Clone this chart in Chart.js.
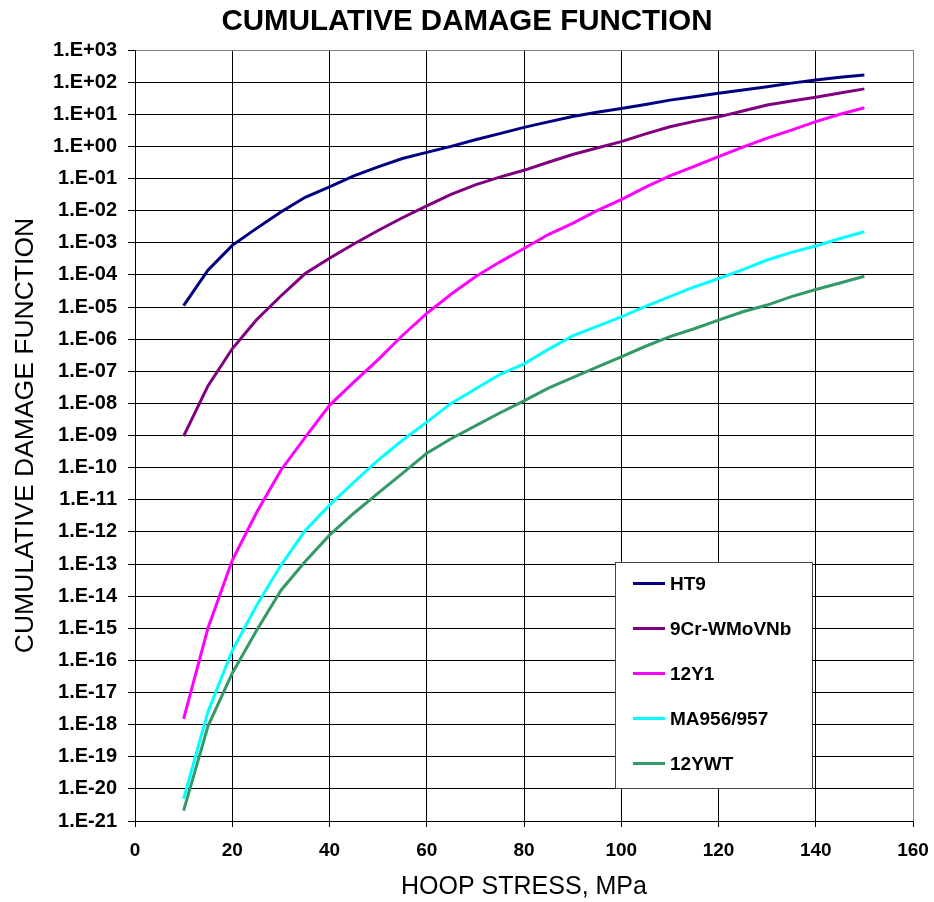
<!DOCTYPE html>
<html>
<head>
<meta charset="utf-8">
<script src="https://cdn.jsdelivr.net/npm/chart.js@4.4.1/dist/chart.umd.min.js"></script>
<style>
html,body{margin:0;padding:0;background:#ffffff;}
canvas{display:block;}
</style>
</head>
<body>
<canvas id="c" width="934" height="902"></canvas>
<script>
// ---------- data ----------
const stress = [10,15,20,25,30,35,40,45,50,55,60,65,70,75,80,85,90,95,100,105,110,115,120,125,130,135,140,145,150];

const ht9 = [1.1e-5,1.4e-4,8.3e-4,2.8e-3,9.1e-3,2.6e-2,5.5e-2,1.2e-1,2.3e-1,4.2e-1,6.5e-1,1.0,1.6,2.5,3.9,5.8,8.5,11.5,15,20,27.5,35,45,57,72,93,117,141,166];
const cr9 = [9.5e-10,3.5e-8,5.0e-7,4.0e-6,2.2e-5,1.1e-4,3.3e-4,9.1e-4,2.4e-3,6.0e-3,1.4e-2,3.2e-2,6.3e-2,1.1e-1,1.8e-1,3.2e-1,5.6e-1,8.9e-1,1.4,2.45,4.1,6.0,8.3,12.6,19.5,25.7,33.9,45.7,61.7];
const y12y1 = [1.5e-18,1.0e-15,1.3e-13,4.0e-12,8.3e-11,8.7e-10,8.7e-9,4.6e-8,2.3e-7,1.3e-6,6.3e-6,2.5e-5,8.7e-5,2.5e-4,6.6e-4,1.8e-3,4.0e-3,1.0e-2,2.2e-2,5.4e-2,1.2e-1,2.4e-1,4.8e-1,9.5e-1,1.8,3.2,5.9,10,16];
const ma956 = [4.9e-21,2.5e-18,2.0e-16,5.1e-15,9.1e-14,1.1e-12,6.8e-12,3.5e-11,1.7e-10,7.1e-10,2.6e-9,1.0e-8,2.8e-8,7.9e-8,1.7e-7,4.8e-7,1.26e-6,2.5e-6,4.9e-6,1.05e-5,2.1e-5,4.2e-5,7.6e-5,1.45e-4,2.9e-4,5.0e-4,7.9e-4,1.35e-3,2.2e-3];
const ywt12 = [2.1e-21,8.9e-19,4.0e-17,8.5e-16,1.5e-14,1.2e-13,7.9e-13,3.8e-12,1.6e-11,6.6e-11,2.8e-10,7.9e-10,2.0e-9,5.0e-9,1.2e-8,3.0e-8,6.3e-8,1.35e-7,2.8e-7,6.0e-7,1.2e-6,2.1e-6,3.9e-6,7.1e-6,1.15e-5,2.1e-5,3.5e-5,5.6e-5,9.1e-5];

const seriesNames = ['HT9','9Cr-WMoVNb','12Y1','MA956/957','12YWT'];
const seriesColors = ['#000080','#800080','#FF00FF','#00FFFF','#339966'];
const seriesValues = [ht9, cr9, y12y1, ma956, ywt12];

const xTickValues = [0,20,40,60,80,100,120,140,160];
const yTickValues = [1e3,1e2,1e1,1e0,1e-1,1e-2,1e-3,1e-4,1e-5,1e-6,1e-7,1e-8,1e-9,1e-10,1e-11,1e-12,1e-13,1e-14,1e-15,1e-16,1e-17,1e-18,1e-19,1e-20,1e-21];
const yTickLabels = ['1.E+03','1.E+02','1.E+01','1.E+00','1.E-01','1.E-02','1.E-03','1.E-04','1.E-05','1.E-06','1.E-07','1.E-08','1.E-09','1.E-10','1.E-11','1.E-12','1.E-13','1.E-14','1.E-15','1.E-16','1.E-17','1.E-18','1.E-19','1.E-20','1.E-21'];

const FONT = '"Liberation Sans", Arial, sans-serif';

const datasets = seriesNames.map((name, i) => ({
  label: name,
  data: stress.map((s, j) => ({x: s, y: seriesValues[i][j]})),
  borderColor: seriesColors[i],
  backgroundColor: seriesColors[i],
  borderWidth: 3,
  pointRadius: 0,
  tension: 0,
  fill: false
}));

const boxLegend = {
  id: 'boxLegend',
  afterDraw(chart) {
    const {ctx, chartArea: a} = chart;
    const x0 = a.left + 480, y0 = a.top + 512, w = 197, h = 226;
    ctx.save();
    ctx.fillStyle = '#ffffff';
    ctx.fillRect(x0, y0, w, h);
    ctx.strokeStyle = '#444444';
    ctx.lineWidth = 1;
    ctx.strokeRect(x0 + 0.5, y0 + 0.5, w, h);
    chart.data.datasets.forEach((ds, i) => {
      const y = Math.round(y0 + 21 + i * 45) + 0.5;
      ctx.strokeStyle = ds.borderColor;
      ctx.lineWidth = 3;
      ctx.beginPath();
      ctx.moveTo(x0 + 18, y);
      ctx.lineTo(x0 + 50, y);
      ctx.stroke();
      ctx.fillStyle = '#000000';
      ctx.font = 'bold 19px ' + FONT;
      ctx.textBaseline = 'middle';
      ctx.textAlign = 'left';
      ctx.fillText(ds.label, x0 + 55, y + 1);
    });
    ctx.restore();
  }
};

new Chart(document.getElementById('c'), {
  type: 'line',
  data: {datasets},
  plugins: [boxLegend],
  options: {
    responsive: false,
    animation: false,
    layout: {padding: {left: 0, right: 0, top: 0, bottom: 0}},
    plugins: {
      legend: {display: false},
      tooltip: {enabled: false},
      title: {
        display: true,
        text: 'CUMULATIVE DAMAGE FUNCTION',
        color: '#000000',
        font: {family: FONT, size: 29.5, weight: 'bold'},
        padding: {top: 4, bottom: 10.6}
      }
    },
    scales: {
      x: {
        type: 'linear',
        min: 0,
        max: 160,
        afterFit(scale) { scale.height = 81; scale.paddingLeft = 0; scale.paddingRight = 21; },
        afterBuildTicks(scale) { scale.ticks = xTickValues.map(v => ({value: v})); },
        ticks: {
          color: '#000000',
          font: {family: FONT, size: 19, weight: 'bold'},
          padding: 12,
          maxRotation: 0,
          autoSkip: false
        },
        grid: {
          color: (c) => (c.tick && c.tick.value === 160) ? '#808080' : '#000000',
          lineWidth: 1,
          drawTicks: true,
          tickLength: 6,
          tickColor: '#000000'
        },
        border: {display: true, color: '#000000', width: 1},
        title: {
          display: true,
          text: 'HOOP STRESS, MPa',
          color: '#000000',
          font: {family: FONT, size: 25, weight: 'normal'},
          padding: {top: 0, bottom: 0}
        }
      },
      y: {
        type: 'logarithmic',
        min: 1e-21,
        max: 1e3,
        afterFit(scale) { scale.width = 135; },
        afterBuildTicks(scale) { scale.ticks = yTickValues.map(v => ({value: v})); },
        ticks: {
          color: '#000000',
          font: {family: FONT, size: 20, weight: 'bold'},
          padding: 11,
          autoSkip: false,
          callback: (v) => yTickLabels[yTickValues.findIndex(t => Math.abs(Math.log10(t) - Math.log10(v)) < 1e-6)]
        },
        grid: {
          color: (c) => (c.tick && c.tick.value === 1e3) ? '#808080' : '#000000',
          lineWidth: 1,
          drawTicks: true,
          tickLength: 7,
          tickColor: '#000000'
        },
        border: {display: true, color: '#000000', width: 1},
        title: {
          display: true,
          text: 'CUMULATIVE DAMAGE FUNCTION',
          color: '#000000',
          font: {family: FONT, size: 26.5, weight: 'normal'},
          padding: {top: 10, bottom: 0}
        }
      }
    }
  }
});
</script>
</body>
</html>
